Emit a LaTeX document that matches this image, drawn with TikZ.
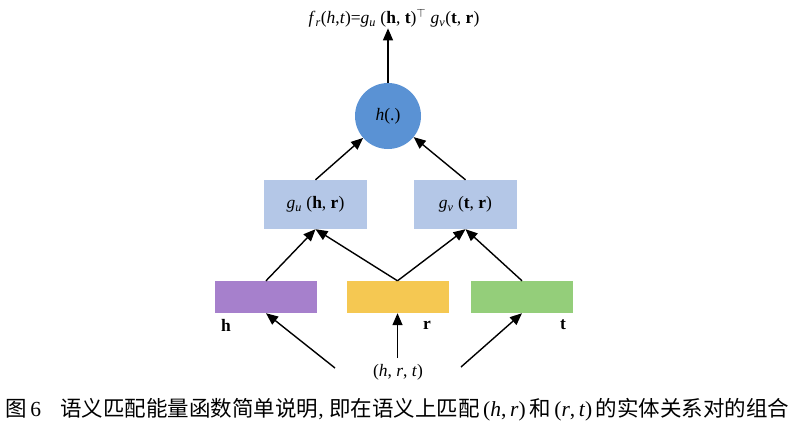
\documentclass[tikz,border=0pt]{standalone}
\usepackage{fontspec}
\setmainfont{Liberation Serif}
\newfontfamily\cjk{Noto Sans CJK SC}
\usetikzlibrary{arrows.meta}
\definecolor{circblue}{RGB}{90,146,212}
\definecolor{boxblue}{RGB}{180,199,231}
\definecolor{barpurple}{RGB}{166,128,204}
\definecolor{baryellow}{RGB}{245,200,82}
\definecolor{bargreen}{RGB}{148,206,122}
\begin{document}
\begin{tikzpicture}[x=1pt,y=-1pt,
  arr/.style={-{Triangle[length=12pt,width=10pt]}, line width=1.4pt},
  lbl/.style={font=\fontsize{17.5}{20}\selectfont},
  gbox/.style={fill=boxblue, minimum width=103pt, minimum height=49pt, inner sep=0pt, lbl},
  bar/.style={minimum width=102pt, minimum height=32pt, inner sep=0pt}]
\useasboundingbox (0,0) rectangle (794,429);
% top formula
\node[lbl, inner sep=1pt] (f) at (394,18) {\textit{f}\textsubscript{\textit{r}}(\textit{h},\textit{t})=\textit{g}\textsubscript{\textit{u}} (\textbf{h}, \textbf{t})$^{\top}$ \textit{g}\textsubscript{\textit{v}}(\textbf{t}, \textbf{r})};
% circle
\node[circle, fill=circblue, minimum size=66pt, inner sep=0pt, lbl] (hc) at (388,116) {\textit{h}(.)};
% g boxes
\node[gbox] (gu) at (315.5,204.5) {\textit{g}\textsubscript{\textit{u}} (\textbf{h}, \textbf{r})};
\node[gbox] (gv) at (465.5,204.5) {\textit{g}\textsubscript{\textit{v}} (\textbf{t}, \textbf{r})};
% bars
\node[bar, fill=barpurple] (hb) at (266,297) {};
\node[bar, fill=baryellow] (rb) at (397.5,297) {};
\node[bar, fill=bargreen] (tb) at (522,297) {};
% labels
\node[lbl] (hl) at (226,325) {\textbf{h}};
\node[lbl] (rl) at (427,325) {\textbf{r}};
\node[lbl] (tl) at (563,325) {\textbf{t}};
\node[lbl] (hrt) at (398,372) {(\textit{h}, \textit{r}, \textit{t})};
% free ends
\coordinate (sL) at (335,368);
\coordinate (sM) at (397.5,358);
\coordinate (sR) at (461,367);
% connectors
\draw[arr] (hc.north) -- (hc.north |- f.south);
\draw[arr] (gu.north) -- (hc);
\draw[arr] (gv.north) -- (hc);
\draw[arr] (hb.north) -- (gu.south);
\draw[arr] (rb.north) -- (gu.south);
\draw[arr] (rb.north) -- (gv.south);
\draw[arr] (tb.north) -- (gv.south);
\draw[arr] (sL) -- (hb.south);
\draw[arr] (sM) -- (rb.south);
\draw[arr] (sR) -- (tb.south);
% caption
\node[anchor=west, inner sep=0pt, font=\fontsize{21.5}{24}\selectfont] (cap) at (5,410) {{\cjk 图}\,6\hspace{0.9em}{\cjk 语义匹配能量函数简单说明}, {\cjk 即在语义上匹配}\,(\textit{h},\,\textit{r})\,{\cjk 和}\,(\textit{r},\,\textit{t})\,{\cjk 的实体关系对的组合}};
\end{tikzpicture}
\end{document}
